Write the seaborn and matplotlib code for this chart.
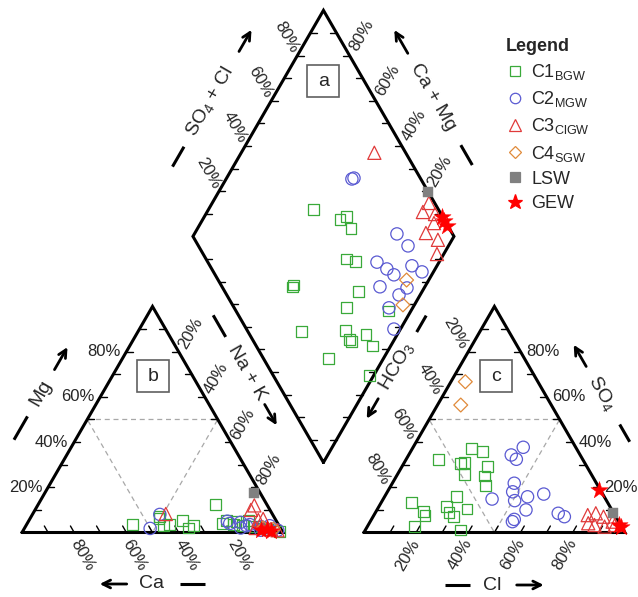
import numpy as np
import pandas as pd
import matplotlib
matplotlib.use('Agg')
import matplotlib.pyplot as plt
from matplotlib.lines import Line2D
from matplotlib.patches import Rectangle
import seaborn as sns

# cation % (Na+K, Mg) and anion % (HCO3, SO4) of each sample; Ca and Cl are the rest
c1_na = [40.5, 52.7, 54.7, 58.9, 64.0, 67.9, 49.1, 49.5, 75.7, 74.8, 91.6, 62.7, 79.5, 83.0, 84.2, 87.9, 93.2, 79.2, 98.5]
c1_mg = [3.6, 3.0, 3.6, 5.2, 3.3, 12.2, 7.0, 6.0, 5.5, 4.0, 2.0, 2.0, 5.0, 3.0, 5.5, 2.5, 1.5, 3.5, 0.5]
c1_hco3 = [47.8, 40.0, 36.7, 37.8, 46.0, 43.0, 72.4, 72.9, 48.5, 56.8, 41.4, 79.2, 62.3, 62.8, 62.4, 55.3, 55.3, 75.0, 62.9]
c1_so4 = [30.6, 37.2, 36.0, 29.4, 31.0, 21.0, 9.2, 7.4, 25.7, 15.8, 25.0, 2.6, 7.0, 11.4, 1.1, 32.1, 10.4, 13.2, 9.0]

c2_na = [48.2, 48.8, 77.6, 84.5, 76.2, 81.5, 85.5, 90.4, 95.6, 82.8, 91.9, 93.4, 90.9, 97.5]
c2_mg = [1.8, 8.0, 4.0, 3.0, 5.0, 4.5, 3.5, 2.5, 1.5, 2.0, 2.0, 3.0, 1.0, 1.0]
c2_hco3 = [26.4, 25.4, 21.3, 19.7, 35.2, 32.9, 31.5, 22.6, 20.1, 39.5, 34.0, 29.4, 40.7, 43.5]
c2_so4 = [34.3, 32.4, 8.5, 7.0, 14.1, 10.0, 21.8, 17.0, 37.7, 5.8, 18.0, 15.8, 4.8, 14.8]

c3_na = [51.0, 83.0, 82.7, 87.8, 89.4, 88.5, 94.6, 97.4]
c3_mg = [8.2, 12.0, 10.0, 5.5, 6.0, 2.0, 1.5, 1.0]
c3_hco3 = [12.0, 2.2, 6.5, 2.3, 4.7, 10.0, 6.9, 10.4]
c3_so4 = [4.1, 3.3, 2.6, 4.8, 7.0, 3.3, 8.5, 7.7]

c4_na = [91.5, 95.6]
c4_mg = [2.0, 1.5]
c4_hco3 = [27.8, 34.7]
c4_so4 = [66.7, 56.4]

lsw_na = [80.2]
lsw_mg = [17.3]
lsw_hco3 = [0.3]
lsw_so4 = [8.8]

gew_na = [91.0, 95.0, 93.0]
gew_mg = [1.0, 0.5, 1.5]
gew_hco3 = [0.5, 0.3, 0.4]
gew_so4 = [19.0, 2.3, 3.5]

ticks = [20, 40, 60, 80]

H = np.sqrt(3) / 2
GAP = 0.31
X0 = 1 + GAP
L = np.array([1 + GAP / 2, GAP * H])
U = np.array([-0.5, H])
V = np.array([0.5, H])
SCALE = 261.0


def px(x, y):
    # pixel position of the reference picture -> drawing units
    return np.array([(x - 22) / SCALE, (532.5 - y) / SCALE])


def project(na, mg, hco3, so4):
    na, mg, hco3, so4 = [np.asarray(a, float) / 100 for a in (na, mg, hco3, so4)]
    cl = 1 - hco3 - so4
    cx, cy = na + mg / 2, mg * H
    ax_, ay_ = X0 + cl + so4 / 2, so4 * H
    s, t = 1 - na, 1 - hco3
    dx, dy = L[0] + 0.5 * (t - s), L[1] + H * (s + t)
    return np.concatenate([cx, ax_, dx]), np.concatenate([cy, ay_, dy])


groups = [
    ('C1', r'C1$_{BGW}$', c1_na, c1_mg, c1_hco3, c1_so4, 's', 62, '#3aaa3a', False),
    ('C2', r'C2$_{MGW}$', c2_na, c2_mg, c2_hco3, c2_so4, 'o', 78, '#5a5ad2', False),
    ('C3', r'C3$_{ClGW}$', c3_na, c3_mg, c3_hco3, c3_so4, '^', 90, '#e03a3a', False),
    ('C4', r'C4$_{SGW}$', c4_na, c4_mg, c4_hco3, c4_so4, 'D', 50, '#e08a3a', False),
    ('LSW', 'LSW', lsw_na, lsw_mg, lsw_hco3, lsw_so4, 's', 60, '#808080', True),
    ('GEW', 'GEW', gew_na, gew_mg, gew_hco3, gew_so4, '*', 170, '#ff0000', True),
]

rows = []
for name, _, na, mg, hco3, so4, *_rest in groups:
    x, y = project(na, mg, hco3, so4)
    rows.append(pd.DataFrame({'x': x, 'y': y, 'group': name}))
df = pd.concat(rows, ignore_index=True)

sns.set_style('white')
plt.rcParams['font.family'] = ['Liberation Sans', 'DejaVu Sans']
plt.rcParams['mathtext.default'] = 'regular'

fig = plt.figure(figsize=(6.38, 5.97), dpi=100)
ax = fig.add_axes([0, 0, 1, 1])
ax.set_xlim(-22 / SCALE, (638 - 22) / SCALE)
ax.set_ylim((532.5 - 597) / SCALE, 532.5 / SCALE)
ax.set_aspect('equal')
ax.axis('off')

# outlines
edge = dict(color='black', lw=2.2, solid_joinstyle='miter', zorder=3)
ax.plot([0, 1, 0.5, 0], [0, 0, H, 0], **edge)
ax.plot([X0, X0 + 1, X0 + 0.5, X0], [0, 0, H, 0], **edge)
dia = np.array([L, L + V, L + U + V, L + U, L])
ax.plot(dia[:, 0], dia[:, 1], **edge)

# dashed inner triangles
dash = dict(color='#a8a8a8', lw=0.9, ls=(0, (4, 3)), zorder=1)
for x0 in (0, X0):
    ax.plot([x0 + 0.25, x0 + 0.75, x0 + 0.5, x0 + 0.25], [H / 2, H / 2, 0, H / 2], **dash)

# ticks every 10 %
tl = 0.024
tk = dict(color='black', lw=1.0, zorder=3)
for f in np.arange(0.1, 0.95, 0.1):
    segs = [
        ((f / 2, f * H), (tl, 0)),                     # Mg
        ((1 - f, 0), (-0.5 * tl * 1.2, H * tl * 1.2)),  # Ca
        ((f + (1 - f) / 2, (1 - f) * H), (-tl, 0)),     # Na+K
        ((X0 + (1 - f) / 2, (1 - f) * H), (tl, 0)),     # HCO3
        ((X0 + f, 0), (0.5 * tl * 1.2, H * tl * 1.2)),  # Cl
        ((X0 + 1 - f / 2, f * H), (-tl, 0)),            # SO4
        (tuple(L + U + f * V), (tl, 0)),
        (tuple(L + f * U + V), (-tl, 0)),
        (tuple(L + f * U), (tl, 0)),
        (tuple(L + f * V), (-tl, 0)),
    ]
    for (x, y), (dx, dy) in segs:
        ax.plot([x, x + dx], [y, y + dy], **tk)

# percent labels
fs = 12
for v in ticks:
    f = v / 100
    ax.text(f / 2 - 0.022, f * H, f'{v}%', ha='right', va='center', fontsize=fs)
    ax.text(1 - f, -0.03, f'{v}%', ha='left', va='center', rotation=-60,
            rotation_mode='anchor', fontsize=fs)
    ax.text(f + (1 - f) / 2 + 0.013, (1 - f) * H + 0.014, f'{v}%', ha='left', va='center',
            rotation=60, rotation_mode='anchor', fontsize=fs)
    ax.text(X0 + (1 - f) / 2 - 0.016, (1 - f) * H + 0.014, f'{v}%', ha='right', va='center',
            rotation=-60, rotation_mode='anchor', fontsize=fs)
    ax.text(X0 + f, -0.03, f'{v}%', ha='right', va='center', rotation=60,
            rotation_mode='anchor', fontsize=fs)
    ax.text(X0 + 1 - f / 2 + 0.022, f * H, f'{v}%', ha='left', va='center', fontsize=fs)
    p = L + U + f * V
    ax.text(p[0] - 0.008, p[1] + 0.015, f'{v}%', ha='right', va='center', rotation=-60,
            rotation_mode='anchor', fontsize=fs)
    p = L + f * U + V
    ax.text(p[0] + 0.014, p[1] + 0.022, f'{v}%', ha='left', va='center', rotation=60,
            rotation_mode='anchor', fontsize=fs)


def axis_name(cx, cy, ang, text, rot, dash_rng, arr_rng):
    c = px(cx, cy)
    d = np.array([np.cos(np.radians(ang)), np.sin(np.radians(ang))])
    p1, p2 = c - d * dash_rng[0] / SCALE, c - d * dash_rng[1] / SCALE
    ax.plot([p1[0], p2[0]], [p1[1], p2[1]], color='black', lw=2.2, solid_capstyle='butt')
    ax.text(c[0], c[1], text, rotation=rot, ha='center', va='center',
            rotation_mode='anchor', fontsize=14)
    a1, a2 = c + d * arr_rng[0] / SCALE, c + d * arr_rng[1] / SCALE
    ax.annotate('', xy=a2, xytext=a1,
                arrowprops=dict(arrowstyle='->', lw=2, color='black', shrinkA=0,
                                shrinkB=0, mutation_scale=14))


axis_name(41, 393, 60, 'Mg', 60, (27, 54), (27, 53))
axis_name(151.7, 584, 180, 'Ca', 0, (28, 53), (25, 52))
axis_name(246.7, 373.3, -60, 'Na + K', -60, (42, 67), (36, 60))
axis_name(491.7, 585, 0, 'Cl', 0, (22, 47), (25, 52))
axis_name(601.7, 393.3, 120, 'SO$_4$', -60, (36, 56), (31, 56))
axis_name(396.7, 366.7, 240, 'HCO$_3$', 60, (40, 59), (37, 60))
axis_name(210, 101.7, 60, 'SO$_4$ + Cl', 60, (52, 75), (58, 83))
axis_name(433.3, 97.5, 120, 'Ca + Mg', -60, (55, 78), (51, 78))

# panel letters
bw = 32 / SCALE
for letter, (cx, cy) in zip('abc', [(323.3, 81), (153.3, 376.2), (495.8, 376.3)]):
    c = px(cx, cy)
    ax.add_patch(Rectangle((c[0] - bw / 2, c[1] - bw / 2), bw, bw, fc='white',
                           ec='#606060', lw=1.2, zorder=2))
    ax.text(c[0], c[1], letter, ha='center', va='center', fontsize=14, zorder=3)

# samples
handles, labels = [], []
for name, label, _na, _mg, _h, _s, marker, size, color, filled in groups:
    sub = df[df['group'] == name]
    fc = color if filled else 'none'
    sns.scatterplot(data=sub, x='x', y='y', marker=marker, s=size, color=color,
                    facecolor=fc, edgecolor=color, linewidth=0.9 if not filled else 0.3,
                    legend=False, ax=ax, zorder=4)
    handles.append(Line2D([], [], ls='none', marker=marker, ms=np.sqrt(size) * 0.85,
                          mfc=fc, mec=color, mew=0.9))
    labels.append(label)

ax.set_xlabel('')
ax.set_ylabel('')
ax.set_xlim(-22 / SCALE, (638 - 22) / SCALE)
ax.set_ylim((532.5 - 597) / SCALE, 532.5 / SCALE)

leg = ax.legend(handles, labels, title='Legend', loc='upper left',
                bbox_to_anchor=(0.79, 0.94), frameon=False, fontsize=13,
                title_fontproperties={'weight': 'bold', 'size': 13}, alignment='left',
                handletextpad=0.4, labelspacing=0.40, handlelength=1.0, borderaxespad=0,
                borderpad=0.1)

fig.savefig('out.png', dpi=100)
